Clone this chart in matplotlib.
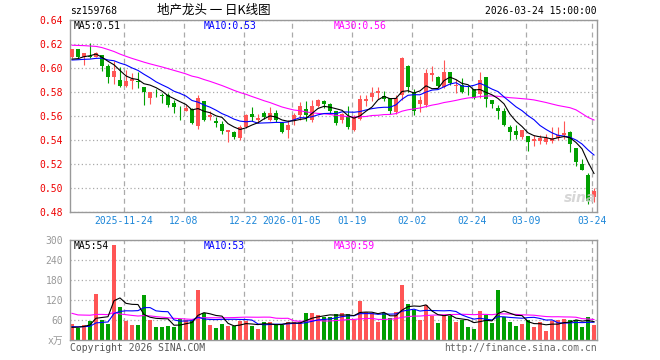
import matplotlib.pyplot as plt
import numpy as np
import pandas as pd

plt.rcParams['font.family'] = ['DejaVu Sans Mono', 'Noto Sans CJK SC']

# daily candles, 2025-11-11 .. 2026-03-24
opens = [0.6089, 0.6156, 0.6089, 0.6103, 0.6094, 0.6108, 0.6017, 0.5922, 0.5900, 0.5853,
         0.5889, 0.5889, 0.5842, 0.5753, 0.5792, 0.5772, 0.5775, 0.5706, 0.5678, 0.5642,
         0.5658, 0.5519, 0.5725, 0.5594, 0.5561, 0.5533, 0.5467, 0.5464, 0.5417, 0.5511,
         0.5617, 0.5567, 0.5622, 0.5567, 0.5622, 0.5544, 0.5483, 0.5567, 0.5606, 0.5661,
         0.5567, 0.5683, 0.5722, 0.5700, 0.5644, 0.5567, 0.5594, 0.5483, 0.5572, 0.5722,
         0.5756, 0.5794, 0.5767, 0.5753, 0.5633, 0.5775, 0.6017, 0.5803, 0.5700, 0.5692,
         0.5939, 0.5928, 0.5839, 0.5969, 0.5850, 0.5858, 0.5803, 0.5822, 0.5783, 0.5928,
         0.5733, 0.5669, 0.5644, 0.5506, 0.5478, 0.5428, 0.5433, 0.5394, 0.5394, 0.5386,
         0.5394, 0.5414, 0.5442, 0.5467, 0.5331, 0.5200, 0.5105, 0.4928]
highs = [0.6160, 0.6160, 0.6125, 0.6206, 0.6133, 0.6110, 0.6030, 0.6056, 0.6011, 0.5983,
         0.5961, 0.5964, 0.5845, 0.5800, 0.5825, 0.5790, 0.5789, 0.5733, 0.5680, 0.5692,
         0.5667, 0.5775, 0.5725, 0.5644, 0.5594, 0.5561, 0.5486, 0.5478, 0.5522, 0.5617,
         0.5678, 0.5617, 0.5644, 0.5672, 0.5650, 0.5544, 0.5567, 0.5622, 0.5717, 0.5725,
         0.5733, 0.5739, 0.5733, 0.5711, 0.5644, 0.5622, 0.5683, 0.5606, 0.5775, 0.5775,
         0.5839, 0.5844, 0.5811, 0.5753, 0.5772, 0.6089, 0.6025, 0.5822, 0.5767, 0.5989,
         0.6017, 0.5933, 0.6067, 0.5969, 0.5906, 0.5914, 0.5850, 0.5822, 0.5969, 0.5928,
         0.5733, 0.5692, 0.5669, 0.5525, 0.5525, 0.5483, 0.5433, 0.5442, 0.5442, 0.5450,
         0.5506, 0.5511, 0.5561, 0.5478, 0.5331, 0.5239, 0.5122, 0.5000]
lows = [0.6085, 0.6085, 0.6025, 0.6080, 0.6089, 0.5978, 0.5878, 0.5864, 0.5844, 0.5839,
        0.5828, 0.5836, 0.5690, 0.5697, 0.5761, 0.5706, 0.5678, 0.5628, 0.5567, 0.5640,
        0.5531, 0.5489, 0.5558, 0.5567, 0.5511, 0.5450, 0.5383, 0.5406, 0.5400, 0.5500,
        0.5561, 0.5539, 0.5572, 0.5556, 0.5550, 0.5460, 0.5417, 0.5522, 0.5569, 0.5561,
        0.5553, 0.5678, 0.5664, 0.5617, 0.5522, 0.5539, 0.5489, 0.5475, 0.5567, 0.5683,
        0.5722, 0.5744, 0.5725, 0.5617, 0.5619, 0.5733, 0.5803, 0.5608, 0.5636, 0.5678,
        0.5894, 0.5839, 0.5831, 0.5858, 0.5794, 0.5794, 0.5775, 0.5739, 0.5747, 0.5678,
        0.5664, 0.5572, 0.5517, 0.5400, 0.5406, 0.5406, 0.5311, 0.5350, 0.5367, 0.5367,
        0.5378, 0.5400, 0.5406, 0.5303, 0.5183, 0.5150, 0.4870, 0.4886]
closes = [0.6156, 0.6094, 0.6122, 0.6089, 0.6122, 0.6019, 0.5928, 0.5975, 0.5853, 0.5894,
          0.5911, 0.5886, 0.5800, 0.5797, 0.5788, 0.5767, 0.5692, 0.5678, 0.5672, 0.5669,
          0.5544, 0.5747, 0.5567, 0.5611, 0.5539, 0.5478, 0.5486, 0.5428, 0.5506, 0.5611,
          0.5594, 0.5581, 0.5589, 0.5628, 0.5567, 0.5469, 0.5528, 0.5611, 0.5681, 0.5606,
          0.5683, 0.5733, 0.5700, 0.5644, 0.5544, 0.5617, 0.5511, 0.5594, 0.5739, 0.5739,
          0.5792, 0.5808, 0.5739, 0.5644, 0.5750, 0.6081, 0.5839, 0.5644, 0.5733, 0.5961,
          0.5961, 0.5850, 0.5969, 0.5878, 0.5858, 0.5803, 0.5797, 0.5747, 0.5900, 0.5739,
          0.5700, 0.5644, 0.5525, 0.5469, 0.5442, 0.5483, 0.5381, 0.5406, 0.5419, 0.5414,
          0.5414, 0.5442, 0.5456, 0.5367, 0.5219, 0.5150, 0.4890, 0.4978]
# volume in 万
volumes = [48, 37, 45, 58, 138, 60, 48, 285, 100, 57,
           45, 45, 135, 60, 40, 40, 42, 40, 62, 60,
           58, 150, 80, 45, 35, 48, 42, 42, 57, 57,
           42, 33, 55, 55, 45, 45, 55, 55, 55, 81,
           81, 75, 70, 70, 77, 82, 77, 60, 117, 83,
           80, 55, 80, 65, 83, 165, 107, 90, 60, 105,
           73, 52, 75, 73, 55, 60, 40, 33, 87, 75,
           52, 150, 70, 55, 43, 48, 60, 40, 53, 27,
           58, 60, 63, 60, 60, 40, 70, 45]

# sessions before the window, only feed the moving averages
prev_closes = [0.615, 0.617, 0.619, 0.621, 0.632, 0.640, 0.648, 0.650, 0.645, 0.643,
               0.635, 0.628, 0.622, 0.618, 0.615, 0.612, 0.611, 0.610, 0.612, 0.610,
               0.607, 0.609, 0.607, 0.606, 0.6005, 0.6075, 0.604, 0.605, 0.605]
prev_volumes = [180, 60, 70, 65, 60, 70, 65, 260, 120, 110,
                100, 95, 90, 100, 95, 90, 95, 90, 95, 90,
                40, 42, 45, 38, 45, 35, 33, 36, 38]

tick_idx = [9, 19, 29, 37, 47, 57, 67, 76, 87]
tick_labels = ['2025-11-24', '12-08', '12-22', '2026-01-05', '01-19', '02-02',
               '02-24', '03-09', '03-24']

price_ticks = [0.48, 0.50, 0.52, 0.54, 0.56, 0.58, 0.60, 0.62, 0.64]
vol_ticks = [0, 60, 120, 180, 240, 300]

RED = '#ff5555'
GREEN = '#00a000'
GRID = '#aaaaaa'
FRAME = '#999999'
BLUE_TXT = '#1c86d8'

o = np.array(opens)
h = np.array(highs)
l = np.array(lows)
c = np.array(closes)
v = np.array(volumes)
x = np.arange(len(c))
up = c >= o
cols = np.where(up, RED, GREEN)


def moving(prev, vals, n):
  s = pd.Series(list(prev) + list(vals)).rolling(n).mean()
  return s.iloc[len(prev):].to_numpy()


fig = plt.figure(figsize=(6.6, 3.6), dpi=100)
W, H = 660.0, 360.0
ax = fig.add_axes([70 / W, 1 - 212 / H, 527 / W, 192 / H])
axv = fig.add_axes([70 / W, 1 - 340 / H, 527 / W, 100 / H])

grid_x = [i - 0.33 for i in tick_idx]
xlim = (-0.333, 87.5)

for a in (ax, axv):
  a.set_xlim(*xlim)
  for sp in a.spines.values():
    sp.set_color(FRAME)
    sp.set_linewidth(1.0)
  a.set_xticks(grid_x)
  a.grid(axis='x', color=GRID, linestyle=(0, (4, 3)), linewidth=0.9)
  a.grid(axis='y', color=GRID, linestyle=(0, (1, 2)), linewidth=0.9)
  a.set_axisbelow(True)
  a.tick_params(length=0)

# candles
ax.vlines(x, l, h, colors=cols, linewidth=0.8, zorder=2)
body = np.maximum(np.abs(c - o), 0.0006)
ax.bar(x, body, bottom=np.minimum(o, c), width=0.8, color=cols, linewidth=0, zorder=3)

ax.plot(x, moving(prev_closes, c, 30), color='#ff00ff', lw=0.8, zorder=4)
ax.plot(x, moving(prev_closes, c, 10), color='#0000ff', lw=0.8, zorder=4)
ax.plot(x, moving(prev_closes, c, 5), color='black', lw=0.8, zorder=4)

ax.set_ylim(0.48, 0.64)
ax.set_yticks(price_ticks)
ax.set_yticklabels([f'{t:.2f}' for t in price_ticks])
ax.tick_params(axis='y', labelcolor='#ee0000', labelsize=7, pad=5)
ax.set_xticklabels(tick_labels)
ax.tick_params(axis='x', labelcolor=BLUE_TXT, labelsize=7, pad=3)

# volume
axv.bar(x, v, width=0.8, color=cols, linewidth=0, zorder=2)
axv.plot(x, moving(prev_volumes, v, 30), color='#ff00ff', lw=0.8, zorder=4)
axv.plot(x, moving(prev_volumes, v, 10), color='#0000ff', lw=0.8, zorder=4)
axv.plot(x, moving(prev_volumes, v, 5), color='black', lw=0.8, zorder=4)
axv.set_ylim(0, 300)
axv.set_yticks(vol_ticks)
axv.set_yticklabels(['x万'] + [str(t) for t in vol_ticks[1:]])
axv.tick_params(axis='y', labelcolor='#999999', labelsize=7, pad=5)
axv.set_xticklabels([])


def ftext(px, py, s, **kw):
  fig.text(px / W, 1 - py / H, s, **kw)


ftext(70, 11, 'sz159768', fontsize=7, va='center', ha='left')
ftext(214, 10, '地产龙头 一 日K线图', fontsize=9, va='center', ha='center',
      family=['Noto Sans CJK SC', 'DejaVu Sans'])
ftext(597, 11, '2026-03-24 15:00:00', fontsize=7, va='center', ha='right')

ftext(74, 26, 'MA5:0.51', fontsize=7, va='center', color='black')
ftext(204, 26, 'MA10:0.53', fontsize=7, va='center', color='#0000ff')
ftext(334, 26, 'MA30:0.56', fontsize=7, va='center', color='#ff00ff')

ftext(74, 246, 'MA5:54', fontsize=7, va='center', color='black')
ftext(204, 246, 'MA10:53', fontsize=7, va='center', color='#0000ff')
ftext(334, 246, 'MA30:59', fontsize=7, va='center', color='#ff00ff')

ftext(70, 348, 'Copyright 2026 SINA.COM', fontsize=7, va='center', ha='left', color='#555555')
ftext(597, 348, 'http://finance.sina.com.cn', fontsize=7, va='center', ha='right', color='#666666')

# faint watermark
ftext(580, 198, 'sina', fontsize=10, va='center', ha='center', color='#cccccc',
      style='italic', weight='bold', family='DejaVu Sans', alpha=0.8)

fig.savefig('out.png', dpi=100)
